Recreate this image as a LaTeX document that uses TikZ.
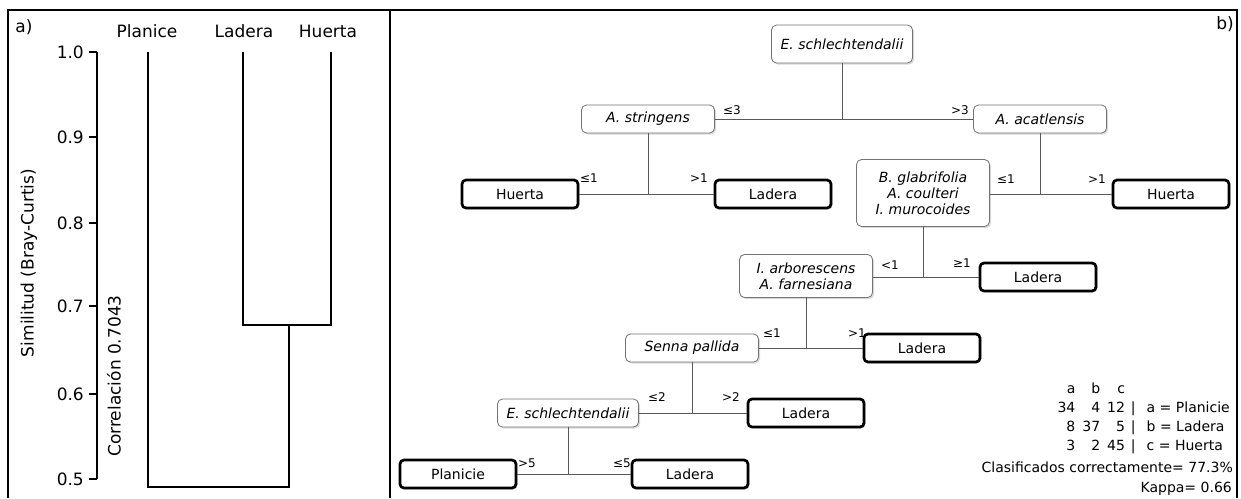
\documentclass[tikz,border=0pt]{standalone}
\usepackage{fontspec}
\setmainfont{DejaVu Sans}
\usetikzlibrary{shadows}
\tikzset{
  test/.style={draw=black!55, line width=0.8pt, rounded corners=5pt, fill=white,
    minimum width=133pt, minimum height=28pt, inner sep=0pt, align=center,
    font=\fontsize{14}{16}\selectfont\itshape,
    drop shadow={opacity=0.3, shadow xshift=1.5pt, shadow yshift=-1.5pt}},
  leaf/.style={draw, line width=2.7pt, rounded corners=4pt, fill=white,
    minimum width=116pt, minimum height=28pt, inner sep=0pt,
    font=\fontsize{14}{16}\selectfont,
    drop shadow={opacity=0.3, shadow xshift=1.5pt, shadow yshift=-1.5pt}},
  cut/.style={inner sep=0pt, font=\fontsize{12}{14}\selectfont},
  branch/.style={draw=black!65, line width=0.9pt},
  dendro/.style={line width=2.2pt},
  big/.style={inner sep=0pt, font=\fontsize{17}{20}\selectfont},
}
\begin{document}
\begin{tikzpicture}[x=1pt, y=-1pt]
  \useasboundingbox (0,0) rectangle (1241,498);
  % frame of both panels
  \draw[line width=1.5pt] (8,498) -- (8,10) -- (1237,10) -- (1237,498);
  \draw[line width=1.8pt] (390,10) -- (390,498);

  % a) dendrogram
  \node[big] (pa) at (24,27) {a)};
  \node[big] (pl) at (147,31) {Planice};
  \node[big] (ld) at (244,31) {Ladera};
  \node[big] (hu) at (328,31) {Huerta};
  \draw[dendro] (97,52) -- (97,479);
  \foreach \v/\y [count=\i] in {1.0/52, 0.9/137, 0.8/223, 0.7/306, 0.6/394, 0.5/479} {
    \draw[dendro] (89,\y) -- (97,\y);
    \node[big, anchor=east] (tick\i) at (84,\y) {\v};
  }
  \node[big, rotate=90] (ylab) at (29,263) {Similitud (Bray-Curtis)};
  \node[big, rotate=90] (corr) at (114,376) {Correlación 0.7043};
  \draw[dendro] (148,52) -- (148,487) -- (289,487) -- (289,325);
  \draw[dendro] (243,52) -- (243,325) -- (331,325) -- (331,52);

  % b) classification tree
  \node[big] (pb) at (1225,24) {b)};
  \node[test, minimum width=141pt, minimum height=38pt] (esch1) at (842,44) {E. schlechtendalii};
  \node[test] (astr) at (648,119) {A. stringens};
  \node[test] (aaca) at (1040,119) {A. acatlensis};
  \node[leaf] (hue1) at (520,194) {Huerta};
  \node[leaf] (lad1) at (773,194) {Ladera};
  \node[test, minimum height=67pt] (bgla) at (923,193) {B. glabrifolia\\A. coulteri\\I. murocoides};
  \node[leaf] (hue2) at (1171,194) {Huerta};
  \node[test, minimum height=43pt] (iarb) at (806,276) {I. arborescens\\A. farnesiana};
  \node[leaf] (lad2) at (1038,277) {Ladera};
  \node[test] (senn) at (692,348) {Senna pallida};
  \node[leaf] (lad3) at (922,348) {Ladera};
  \node[test, minimum width=141pt] (esch2) at (568,413) {E. schlechtendalii};
  \node[leaf] (lad4) at (806,413) {Ladera};
  \node[leaf] (plan) at (458,474) {Planicie};
  \node[leaf] (lad5) at (690,474) {Ladera};

  \begin{scope}[branch]
    \draw (esch1.south) -- (esch1.south |- astr.east);
    \draw (astr.east) -- (aaca.west);
    \draw (astr.south) -- (astr.south |- hue1.east);
    \draw (hue1.east) -- (lad1.west);
    \draw (aaca.south) -- (aaca.south |- hue2.west);
    \draw (bgla.east |- hue2.west) -- (hue2.west);
    \draw (bgla.south) -- (bgla.south |- lad2.west);
    \draw (iarb.east |- lad2.west) -- (lad2.west);
    \draw (iarb.south) -- (iarb.south |- lad3.west);
    \draw (senn.east) -- (lad3.west);
    \draw (senn.south) -- (senn.south |- lad4.west);
    \draw (esch2.east) -- (lad4.west);
    \draw (esch2.south) -- (esch2.south |- lad5.west);
    \draw (plan.east) -- (lad5.west);
  \end{scope}

  % split values
  \node[cut] (c1) at (732,110) {≤3};
  \node[cut] (c2) at (960,110) {>3};
  \node[cut] (c3) at (589,178) {≤1};
  \node[cut] (c4) at (699,178) {>1};
  \node[cut] (c5) at (1006,179) {≤1};
  \node[cut] (c6) at (1097,179) {>1};
  \node[cut] (c7) at (890,265) {<1};
  \node[cut] (c8) at (962,263) {≥1};
  \node[cut] (c9) at (772,333) {≤1};
  \node[cut] (c10) at (857,333) {>1};
  \node[cut] (c11) at (657,397) {≤2};
  \node[cut] (c12) at (731,397) {>2};
  \node[cut] (c13) at (527,463) {>5};
  \node[cut] (c14) at (622,463) {≤5};

  % confusion matrix
  \node[inner sep=0pt, anchor=base east, font=\fontsize{14}{19}\selectfont] (conf) at (1230,393)
    {\begin{tabular}[t]{@{}r@{\hspace{7pt}}r@{\hspace{7pt}}r@{\hspace{6pt}}l@{\hspace{11pt}}l@{}}
      a & b & c & & \\
      34 & 4 & 12 & | & a = Planicie\\
      8 & 37 & 5 & | & b = Ladera\\
      3 & 2 & 45 & | & c = Huerta
    \end{tabular}};
  \node[inner sep=0pt, anchor=base east, font=\fontsize{14}{17}\selectfont] (acc) at (1233,472) {Clasificados correctamente= 77.3\%};
  \node[inner sep=0pt, anchor=base east, font=\fontsize{14}{17}\selectfont] (kap) at (1232,492) {Kappa= 0.66};
\end{tikzpicture}
\end{document}
